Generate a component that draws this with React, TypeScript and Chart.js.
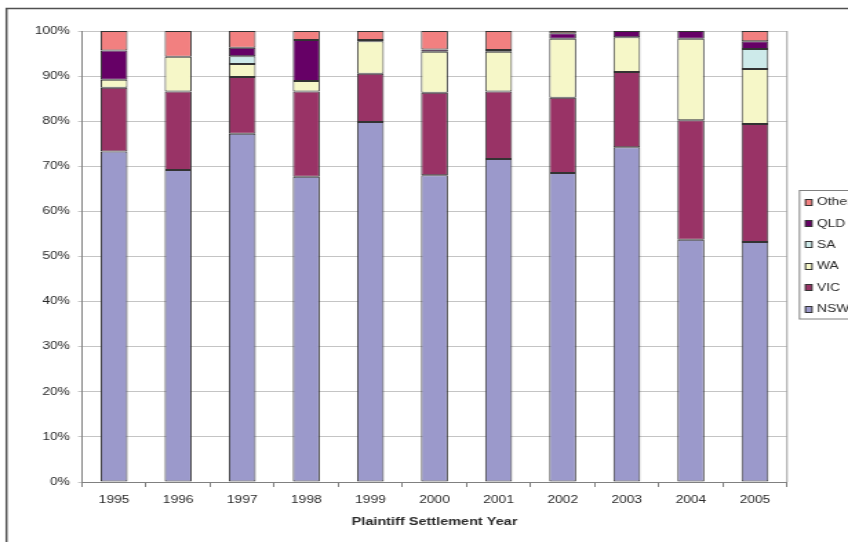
import React, { useEffect, useRef } from 'react';
import { Chart, registerables } from 'chart.js';

Chart.register(...registerables);

const years = ['1995', '1996', '1997', '1998', '1999', '2000', '2001', '2002', '2003', '2004', '2005'];
const nsw = [73.3, 69.2, 77.2, 67.7, 79.8, 68.0, 71.6, 68.5, 74.2, 53.7, 53.2];
const vic = [14.1, 17.4, 12.6, 18.9, 10.7, 18.3, 15.0, 16.7, 16.7, 26.5, 26.2];
const wa = [1.8, 7.7, 2.9, 2.3, 7.2, 9.1, 8.8, 13.1, 7.7, 18.1, 12.2];
const sa = [0, 0, 1.7, 0, 0, 0, 0, 0, 0, 0, 4.4];
const qld = [6.5, 0, 1.9, 9.1, 0.3, 0.5, 0.4, 1.2, 1.4, 1.7, 1.7];
const other = [4.3, 5.7, 3.7, 2.0, 2.0, 4.1, 4.2, 0.5, 0, 0, 2.3];

const seriesNames = ['NSW', 'VIC', 'WA', 'SA', 'QLD', 'Other'];
const seriesData = [nsw, vic, wa, sa, qld, other];
const seriesColors = ['#9b99cb', '#993366', '#f6f7c8', '#cdeaea', '#660066', '#f28080'];
const yTicks = [0, 10, 20, 30, 40, 50, 60, 70, 80, 90, 100];

const FONT = '"Liberation Sans", Arial, sans-serif';
// the reference picture is stretched horizontally; draw narrower and stretch
const OUT_W = 848;
const H = 542;
const CW = 615;
const SX = OUT_W / CW;
const px = (x: number) => x / SX;

const decorPlugin = {
  id: 'decor',
  beforeDraw(chart: any) {
    const ctx = chart.ctx;
    ctx.save();
    ctx.fillStyle = '#ffffff';
    ctx.fillRect(0, 0, chart.width, chart.height);
    ctx.restore();
  },
  afterDraw(chart: any) {
    const ctx = chart.ctx;
    const area = chart.chartArea;
    ctx.save();
    // plot area right border
    ctx.strokeStyle = '#a0a0a0';
    ctx.lineWidth = 1;
    ctx.beginPath();
    ctx.moveTo(area.right, area.top);
    ctx.lineTo(area.right, area.bottom);
    ctx.stroke();
    // outer frame
    ctx.strokeStyle = '#505050';
    ctx.lineWidth = 1.5;
    ctx.strokeRect(px(6.5), 8.5, 1000, 1000);
    // legend
    const lx = px(799.5);
    const ly = 190.5;
    ctx.strokeStyle = '#808080';
    ctx.lineWidth = 1;
    ctx.strokeRect(lx, ly, 200, 128.5);
    const ds = chart.data.datasets;
    ctx.font = '10px ' + FONT;
    ctx.textBaseline = 'middle';
    ctx.textAlign = 'left';
    for (let i = 0; i < ds.length; i++) {
      const d = ds[ds.length - 1 - i];
      const cy = 202 + i * 21.4;
      const top = Math.round(cy - 3.5);
      ctx.fillStyle = d.backgroundColor;
      ctx.fillRect(px(805), top, px(7), 7);
      ctx.strokeStyle = '#333';
      ctx.strokeRect(px(805.5), top + 0.5, px(6.5), 6);
      ctx.fillStyle = '#2a2a2a';
      ctx.fillText(d.label, px(817), cy + 0.5);
    }
    ctx.restore();
  },
};

export default function App() {
  const ref = useRef<HTMLCanvasElement | null>(null);

  useEffect(() => {
    if (!ref.current) return;
    const chart = new Chart(ref.current, {
      type: 'bar',
      data: {
        labels: years,
        datasets: seriesNames.map((name, i) => ({
          label: name,
          data: seriesData[i].map((v) => (v ? v : null)),
          backgroundColor: seriesColors[i],
          borderColor: '#333333',
          borderWidth: 1,
          borderSkipped: false,
          barPercentage: 0.42,
          categoryPercentage: 1,
        })),
      },
      options: {
        responsive: false,
        animation: false,
        devicePixelRatio: 1,
        layout: { padding: { top: 31, right: CW - px(787), left: 0, bottom: 0 } },
        plugins: {
          legend: { display: false },
          tooltip: { enabled: false },
        },
        scales: {
          x: {
            stacked: true,
            grid: {
              offset: true,
              drawOnChartArea: false,
              drawTicks: true,
              tickLength: 5,
              color: '#808080',
            },
            border: { color: '#808080' },
            ticks: { font: { family: FONT, size: 10 }, color: '#2a2a2a', padding: 7, maxRotation: 0 },
            title: {
              display: true,
              text: 'Plaintiff Settlement Year',
              font: { family: FONT, size: 10.5, weight: 'bold' },
              color: '#2a2a2a',
              padding: { top: 2, bottom: 14 },
            },
            afterFit(scale: any) {
              scale.height = 60;
            },
          },
          y: {
            stacked: true,
            min: 0,
            max: 100,
            afterBuildTicks(scale: any) {
              scale.ticks = yTicks.map((v) => ({ value: v }));
            },
            grid: { color: '#c4c4c4', tickLength: px(4) },
            border: { color: '#808080' },
            ticks: {
              font: { family: FONT, size: 10 },
              color: '#2a2a2a',
              padding: px(8),
              callback: (v: any) => v + '%',
            },
            afterFit(scale: any) {
              scale.width = px(82);
            },
          },
        },
      },
      plugins: [decorPlugin],
    });
    return () => chart.destroy();
  }, []);

  return (
    <div style={{ position: 'absolute', left: 0, top: 0, width: OUT_W, height: H, overflow: 'hidden', background: '#fff' }}>
      <div style={{ width: CW, height: H, transform: `scaleX(${SX})`, transformOrigin: '0 0' }}>
        <canvas ref={ref} width={CW} height={H} />
      </div>
    </div>
  );
}
